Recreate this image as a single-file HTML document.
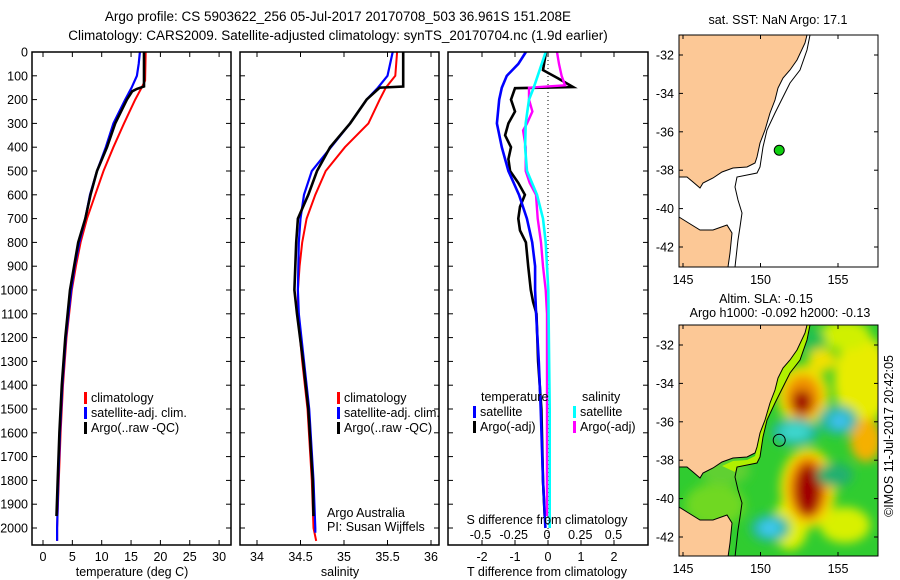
<!DOCTYPE html>
<html><head><meta charset="utf-8"><style>
html,body{margin:0;padding:0;background:#fff;}
svg{display:block;font-family:"Liberation Sans",sans-serif;}
text{font-size:12.5px;fill:#000;}
</style></head><body>
<svg id="chart" width="900" height="580" viewBox="0 0 900 580" xmlns="http://www.w3.org/2000/svg">
<text x="338" y="21" text-anchor="middle" style="font-size:13.5px">Argo profile: CS 5903622_256 05-Jul-2017 20170708_503 36.961S 151.208E</text>
<text x="338" y="40" text-anchor="middle" style="font-size:13.5px">Climatology: CARS2009. Satellite-adjusted climatology: synTS_20170704.nc (1.9d earlier)</text>
<g id="panels"></g>
<g id="maps"></g>
</svg>
<script>
// ---------- data ----------
const depthTicks=[0,100,200,300,400,500,600,700,800,900,1000,1100,1200,1300,1400,1500,1600,1700,1800,1900,2000];
const tempTicks=[0,5,10,15,20,25,30];
const salTicks=[34,34.5,35,35.5,36];
const salTickLabels=["34","34.5","35","35.5","36"];
const dTTicks=[-2,-1,0,1,2];
const dSTicks=[-0.5,-0.25,0,0.25,0.5];
const dSTickLabels=["-0.5","-0.25","0","0.25","0.5"];

const tempClimDepth=[0,120,150,200,300,400,500,600,700,800,900,1000,1200,1400,1600,1800,2000,2054];
const tempClim=[17.5,17.4,16.8,15.7,13.8,12.0,10.3,8.9,7.5,6.4,5.6,4.9,4.0,3.4,3.0,2.7,2.4,2.4];
const tempSatDepth=[0,50,100,150,200,300,400,500,600,700,800,900,1000,1200,1400,1600,1800,2000,2054];
const tempSat=[16.5,16.3,16.0,15.1,14.0,12.0,10.7,9.2,8.0,7.2,6.2,5.4,4.8,3.9,3.3,2.9,2.6,2.4,2.4];
const tempArgoDepth=[0,145,155,165,200,300,400,500,600,700,800,900,1000,1200,1400,1600,1800,1950];
const tempArgo=[17.2,17.2,16.0,15.2,14.3,12.3,10.9,9.2,8.1,7.2,6.0,5.3,4.6,3.8,3.2,2.8,2.5,2.3];

const salClimDepth=[0,100,150,200,300,400,500,600,700,800,900,1000,1100,1300,1500,1800,2000,2054];
const salClim=[35.61,35.59,35.48,35.41,35.28,35.01,34.79,34.67,34.57,34.52,34.49,34.47,34.47,34.52,34.58,34.63,34.65,34.68];
const salSatDepth=[0,100,150,200,300,400,500,600,700,800,1000,1100,1300,1500,1800,2000,2020];
const salSat=[35.56,35.5,35.39,35.26,35.07,34.85,34.63,34.54,34.5,34.48,34.47,34.48,34.54,34.6,34.65,34.67,34.67];
const salArgoDepth=[0,145,150,200,300,400,500,600,700,800,900,1000,1100,1300,1500,1800,1950];
const salArgo=[35.68,35.68,35.41,35.26,35.07,34.84,34.69,34.59,34.47,34.45,34.44,34.43,34.46,34.53,34.59,34.64,34.65];

const dTSatDepth=[0,50,100,150,200,300,400,500,600,700,800,900,1000,1100,1300,1500,1800,2000];
const dTSat=[-0.67,-0.9,-1.25,-1.4,-1.48,-1.55,-1.4,-1.2,-0.88,-0.64,-0.48,-0.39,-0.39,-0.36,-0.28,-0.22,-0.15,-0.08];
const dTArgoDepth=[0,76,110,147,152,200,250,300,350,400,450,500,550,600,650,700,750,800,900,1000,1050,1100,1300,1500,1800,1950];
const dTArgo=[-0.06,-0.15,0.3,0.76,-1.0,-1.12,-1.0,-1.2,-1.3,-1.12,-1.2,-1.15,-0.9,-0.7,-0.85,-0.9,-0.85,-0.67,-0.6,-0.52,-0.45,-0.35,-0.3,-0.2,-0.15,-0.1];
const dSSatDepth=[0,100,150,200,300,400,500,600,700,800,1000,1500,2000];
const dSSat=[-0.01,-0.07,-0.1,-0.135,-0.16,-0.165,-0.15,-0.075,-0.03,-0.01,0.01,0.02,0.02];
const dSArgoDepth=[0,50,100,140,150,200,250,300,330,400,500,550,600,700,800,900,1000,1100,1500,1950];
const dSArgo=[0.075,0.09,0.11,0.135,-0.135,-0.135,-0.11,-0.15,-0.18,-0.16,-0.16,-0.13,-0.083,-0.07,-0.045,-0.03,-0.01,0.0,0.0,0.0];

// ---------- helpers ----------
const NS="http://www.w3.org/2000/svg";
function mk(tag,attrs,parent){const e=document.createElementNS(NS,tag);for(const k in attrs)e.setAttribute(k,attrs[k]);if(parent)parent.appendChild(e);return e;}
const Y0=52,YB=545;
const yScale=d=>Y0+d*0.238;
const panelsG=document.getElementById('panels');

function panel(name){
  const g=mk('g',{},panelsG);
  
  
  return g;
}
function frame(g,x0,x1){
  const r=mk('rect',{x:x0,y:Y0,width:x1-x0,height:YB-Y0,fill:'none',stroke:'#000','stroke-width':1.5},g);
  
  
}
function yAxis(g,x0,x1,labels){
  depthTicks.forEach(d=>{
    const y=yScale(d);
    mk('line',{x1:x0,x2:x0+5,y1:y,y2:y,stroke:'#000'},g);
    mk('line',{x1:x1-5,x2:x1,y1:y,y2:y,stroke:'#000'},g);
    if(labels){const t=mk('text',{x:x0-4,y:y+4.5,'text-anchor':'end'},g);t.textContent=d;
      
      }
  });
}
function xAxis(g,xs,ticks,labels,title,tx){
  ticks.forEach((v,i)=>{
    const x=xs(v);
    mk('line',{x1:x,x2:x,y1:YB,y2:YB-5,stroke:'#000'},g);
    mk('line',{x1:x,x2:x,y1:Y0,y2:Y0+5,stroke:'#000'},g);
    const t=mk('text',{x:x,y:YB+16,'text-anchor':'middle'},g);t.textContent=labels[i];
    
    
  });
  const t=mk('text',{x:tx,y:YB+31,'text-anchor':'middle'},g);t.textContent=title;
  
  
}
function line(g,xs,depths,vals,color,w,name){
  const pts=depths.map((d,i)=>xs(vals[i]).toFixed(1)+','+yScale(d).toFixed(1)).join(' ');
  const p=mk('polyline',{points:pts,fill:'none',stroke:color,'stroke-width':w,'stroke-linejoin':'miter'},g);
  
  
}
function legend(g,x,y,items){
  items.forEach((it,i)=>{
    const yy=y+i*15;
    const r=mk('rect',{x:x,y:yy-10,width:3,height:12,fill:it[1]},g);
    
    
    const t=mk('text',{x:x+7,y:yy},g);t.textContent=it[0];
    
    
  });
}

// Panel 1: temperature
{
  const x0=32,x1=231,xs=v=>43+v*5.87;
  const g=panel('temperature-panel');
  line(g,xs,tempClimDepth,tempClim,'#f00',2,'temp-climatology-line');
  line(g,xs,tempSatDepth,tempSat,'#00f',2.2,'temp-satellite-line');
  line(g,xs,tempArgoDepth,tempArgo,'#000',2.6,'temp-argo-line');
  frame(g,x0,x1);yAxis(g,x0,x1,true);
  xAxis(g,xs,tempTicks,tempTicks.map(String),'temperature (deg C)',132);
  legend(g,84,402,[['climatology','#f00'],['satellite-adj. clim.','#00f'],['Argo(..raw -QC)','#000']]);
}
// Panel 2: salinity
{
  const x0=240,x1=439,xs=v=>257+(v-34)*87;
  const g=panel('salinity-panel');
  line(g,xs,salClimDepth,salClim,'#f00',2,'sal-climatology-line');
  line(g,xs,salSatDepth,salSat,'#00f',2.2,'sal-satellite-line');
  line(g,xs,salArgoDepth,salArgo,'#000',2.6,'sal-argo-line');
  frame(g,x0,x1);yAxis(g,x0,x1,false);
  xAxis(g,xs,salTicks,salTickLabels,'salinity',340);
  legend(g,337,402,[['climatology','#f00'],['satellite-adj. clim.','#00f'],['Argo(..raw -QC)','#000']]);
  const a=mk('text',{x:327,y:517},g);a.textContent='Argo Australia';
  
  
  const b=mk('text',{x:327,y:531},g);b.textContent='PI: Susan Wijffels';
  
  
}
// Panel 3: differences
{
  const x0=448,x1=648,xt=v=>548+v*33,xsS=v=>547+v*133;
  const g=panel('difference-panel');
  const dl=mk('line',{x1:548,x2:548,y1:Y0,y2:YB,stroke:'#000','stroke-dasharray':'1,3'},g);
  
  
  line(g,xt,dTArgoDepth,dTArgo,'#000',2.6,'dT-argo-line');
  line(g,xt,dTSatDepth,dTSat,'#00f',2.6,'dT-satellite-line');
  line(g,xsS,dSArgoDepth,dSArgo,'#f0f',2.4,'dS-argo-line');
  line(g,xsS,dSSatDepth,dSSat,'#0ff',2.6,'dS-satellite-line');
  frame(g,x0,x1);yAxis(g,x0,x1,false);
  xAxis(g,xt,dTTicks,dTTicks.map(String),'T difference from climatology',547);
  dSTicks.forEach((v,i)=>{const t=mk('text',{x:xsS(v),y:539,'text-anchor':'middle'},g);t.textContent=dSTickLabels[i];
    
    });
  const st=mk('text',{x:547,y:524,'text-anchor':'middle'},g);st.textContent='S difference from climatology';
  
  
  const h1=mk('text',{x:481,y:401},g);h1.textContent='temperature';
  
  
  const h2=mk('text',{x:582,y:401},g);h2.textContent='salinity';
  
  
  legend(g,473,416,[['satellite','#00f'],['Argo(-adj)','#000']]);
  legend(g,573,416,[['satellite','#0ff'],['Argo(-adj)','#f0f']]);
}

// ---------- maps ----------
const mapsG=document.getElementById('maps');
const MX0=679,MX1=878;
const latTicks=[-32,-34,-36,-38,-40,-42];
const lonTicks=[145,150,155];
const argoLon=151.208, argoLat=-36.961;
const lonX=l=>683+(l-145)*15.5;
const latY=(l,top)=>top+20+(-32-l)*19.2;
const landNSW="807,35 805,43 797,60 790,70 783,78 778,88 775,100 770,113 765,130 760,143 757,157 755,163 747,167 733,168 722,172 713,178 703,183 700,188 693,182 687,177 679,177 679,35";
const landTas="679,217 687,222 700,230 713,230 727,225 732,233 730,253 728,267 679,267";
const isobath="810,35 807,50 800,70 790,83 783,97 775,113 767,130 763,147 760,167 757,173 737,177 735,187 738,200 742,213 740,227 738,240 735,267";
const shelfStrip="810,35 807,50 800,70 790,83 783,97 775,113 767,130 763,147 760,167 757,173 737,177 735,182 722,176 733,171 747,170 755,166 757,157 760,143 765,130 770,113 775,100 778,88 783,78 790,70 797,60 805,43 807,35";
function shift(pts,dy){return pts.split(' ').map(p=>{const [a,b]=p.split(',');return a+','+(+b+dy);}).join(' ');}

function mapAxes(g,top,bottom){
  latTicks.forEach(l=>{const y=latY(l,top);
    mk('line',{x1:MX0,x2:MX0+4,y1:y,y2:y,stroke:'#000'},g);
    mk('line',{x1:MX1-4,x2:MX1,y1:y,y2:y,stroke:'#000'},g);
    const t=mk('text',{x:MX0-5,y:y+4.5,'text-anchor':'end'},g);t.textContent=l;
    
    });
  lonTicks.forEach(l=>{const x=lonX(l);
    mk('line',{x1:x,x2:x,y1:bottom,y2:bottom-4,stroke:'#000'},g);
    mk('line',{x1:x,x2:x,y1:top,y2:top+4,stroke:'#000'},g);
    const t=mk('text',{x:x,y:bottom+17,'text-anchor':'middle'},g);t.textContent=l;
    
    });
  const r=mk('rect',{x:MX0,y:top,width:MX1-MX0,height:bottom-top,fill:'none',stroke:'#000'},g);
  
  
}
// top SST map
{
  const top=35,bottom=267;
  const g=mk('g',{},mapsG);
  
  
  mk('rect',{x:MX0,y:top,width:MX1-MX0,height:bottom-top,fill:'#fff'},g);
  mk('polygon',{points:landNSW,fill:'#fcc896',stroke:'#000','stroke-width':1},g);
  mk('polygon',{points:landTas,fill:'#fcc896',stroke:'#000','stroke-width':1},g);
  mk('polyline',{points:isobath,fill:'none',stroke:'#000','stroke-width':1},g);
  const c=mk('circle',{cx:lonX(argoLon),cy:latY(argoLat,top),r:5,fill:'#10d010',stroke:'#000'},g);
  
  
  mapAxes(g,top,bottom);
  const t=mk('text',{x:778,y:24,'text-anchor':'middle'},g);t.textContent='sat. SST: NaN Argo: 17.1';
  
  
}
// bottom SLA map
{
  const top=325,bottom=556,dy=290;
  const g=mk('g',{},mapsG);
  
  
  const defs=mk('defs',{},g);
  const cp=mk('clipPath',{id:'mclip'},defs);
  mk('rect',{x:MX0,y:top,width:MX1-MX0,height:bottom-top},cp);
  const f=mk('filter',{id:'blur',x:'-50%',y:'-50%',width:'200%',height:'200%'},defs);
  mk('feGaussianBlur',{stdDeviation:5},f);
  const hg=mk('g',{'clip-path':'url(#mclip)'},g);
  
  
  mk('rect',{x:MX0,y:top,width:MX1-MX0,height:bottom-top,fill:'#30cc30'},hg);
  const bg=mk('g',{filter:'url(#blur)'},hg);
  const blobs=[
    [862,380,28,45,'#e8ec00'],[866,440,16,22,'#f5b000'],[845,335,25,15,'#d0f000'],
    [790,525,18,25,'#e0f000'],[845,525,25,18,'#d8f000'],[715,505,30,22,'#70d820'],
    [700,545,25,15,'#b0f000'],[810,340,16,12,'#20c050'],[725,470,25,15,'#60d030'],
    [803,395,26,30,'#f0e000'],[803,397,18,22,'#f09000'],[802,402,10,12,'#a00000'],
    [808,488,28,40,'#f0e000'],[808,488,20,32,'#f08000'],[808,490,13,26,'#a00000'],
    [795,432,24,14,'#20b8a0'],[795,432,15,8,'#40d8d0'],
    [838,420,20,15,'#20b8a0'],[840,421,10,8,'#40c0f0'],
    [770,528,20,14,'#20b8a0'],[770,528,11,8,'#40c8f0'],
    [835,475,18,12,'#20b070'],[822,360,14,12,'#f0e000']
  ];
  blobs.forEach(b=>mk('ellipse',{cx:b[0],cy:b[1],rx:b[2],ry:b[3],fill:b[4]},bg));
  mk('polygon',{points:shift(shelfStrip,dy),fill:'#b0f000'},hg);
  mk('polygon',{points:shift(landNSW,dy),fill:'#fcc896',stroke:'#000','stroke-width':1},hg);
  mk('polygon',{points:shift(landTas,dy),fill:'#fcc896',stroke:'#000','stroke-width':1},hg);
  mk('polyline',{points:shift(isobath,dy),fill:'none',stroke:'#000','stroke-width':1},hg);
  const c=mk('circle',{cx:lonX(argoLon),cy:latY(argoLat,top),r:6,fill:'none',stroke:'#000'},g);
  
  
  mapAxes(g,top,bottom);
  const t1=mk('text',{x:766,y:303,'text-anchor':'middle'},g);t1.textContent='Altim. SLA: -0.15';
  
  
  const t2=mk('text',{x:780,y:317,'text-anchor':'middle'},g);t2.textContent='Argo h1000: -0.092 h2000: -0.13';
  
  
  const cr=mk('text',{x:0,y:0,'text-anchor':'middle',transform:'translate(893,436) rotate(-90)'},g);cr.textContent='©IMOS 11-Jul-2017 20:42:05';
  
  
}
</script>
</body></html>
